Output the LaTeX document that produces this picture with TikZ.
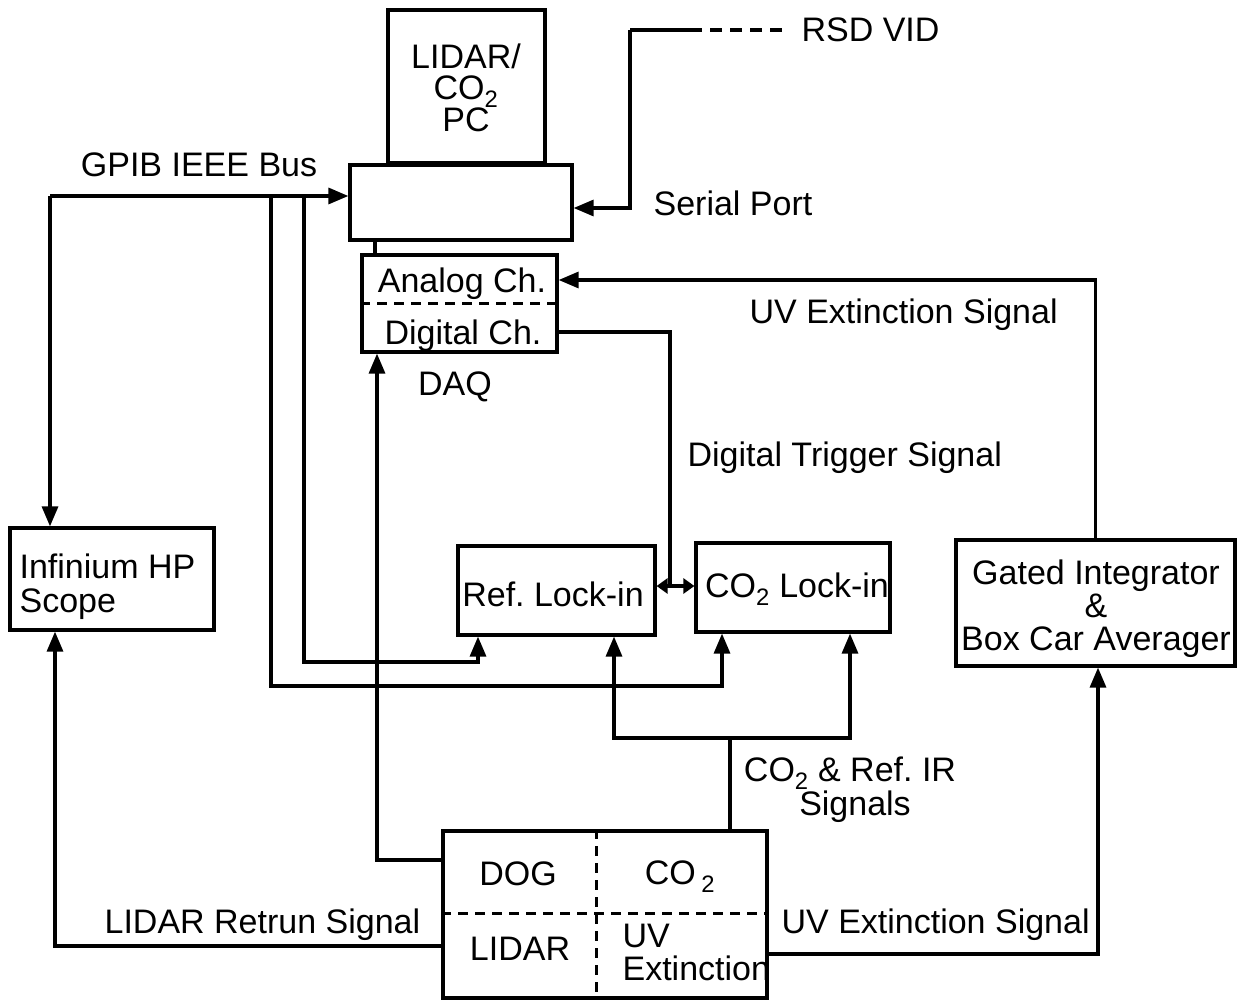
\documentclass[tikz,border=0pt]{standalone}
\usepackage{fontspec}
\setmainfont{Liberation Sans}
\usetikzlibrary{arrows.meta}
\begin{document}
\begin{tikzpicture}[x=1pt,y=-1pt,line width=3.2pt,
  every node/.style={inner sep=0pt, font=\fontsize{34}{34}\selectfont},
  box/.style={draw, line width=3.2pt},
  arr/.style={-{Triangle[length=20pt,width=16pt]}},
  darr/.style={{Triangle[length=11pt,width=15pt]}-{Triangle[length=11pt,width=15pt]}},
  sep/.style={dash pattern=on 10pt off 7pt, line width=3pt},
  lbl/.style={anchor=base west},
  ctr/.style={anchor=base},
]
\useasboundingbox (0,0) rectangle (1238,1000);

% boxes
\node[box, minimum width=157pt, minimum height=153pt] (pc) at (466.5,86.5) {};
\node[ctr, align=center, font=\fontsize{34}{31}\selectfont] (pctxt) at (466,132) {LIDAR/\\CO\textsubscript{2}\\PC};
\node[box, minimum width=222pt, minimum height=75pt] (port) at (461,202.5) {};
\node[box, minimum width=195pt, minimum height=97pt] (daq) at (459.5,303.5) {};
\node[ctr] (analog) at (462,292) {Analog Ch.};
\node[ctr] (digital) at (463,344) {Digital Ch.};
\draw[sep] (daq.west) -- (daq.east);
\node[ctr] (daqlbl) at (455,395) {DAQ};

\node[box, minimum width=204pt, minimum height=102pt] (inf) at (112,579) {};
\node[lbl, align=left] (inftxt) at (18,612) {Infinium HP\\Scope};

\node[box, minimum width=197pt, minimum height=89pt] (ref) at (556.5,590.5) {};
\node[ctr] (reftxt) at (553,606) {Ref.\ Lock-in};
\node[box, minimum width=194pt, minimum height=89pt] (co2) at (793,587.5) {};
\node[ctr] (co2txt) at (797,597) {CO\textsubscript{2} Lock-in};

\node[box, minimum width=279pt, minimum height=126pt] (gated) at (1095.5,603) {};
\node[ctr, align=center, font=\fontsize{34}{33}\selectfont] (gatedtxt) at (1096,650) {Gated Integrator\\\&\\Box Car Averager};

\node[box, minimum width=324pt, minimum height=167pt] (src) at (605,914.5) {};
\coordinate (vx) at (596,0);
\coordinate (hy) at (0,913);
\draw[sep] (src.north -| vx) -- (src.south -| vx);
\draw[sep] (src.west |- hy) -- (src.east |- hy);
\node[ctr] (dog) at (518,885) {DOG};
\node[ctr] (co2src) at (680,884) {CO\,\textsubscript{2}};
\node[ctr] (lidar) at (520,960) {LIDAR};
\node[lbl, align=left, font=\fontsize{34}{33}\selectfont] (uvsrc) at (621,980) {UV\\Extinction};

% labels
\node[ctr] (gpiblbl) at (199,177) {GPIB IEEE Bus};
\node[lbl] (serlbl) at (652,216) {Serial Port};
\node[lbl] (rsdlbl) at (800,42) {RSD VID};
\node[lbl] (uvtoplbl) at (748,323) {UV Extinction Signal};
\node[lbl] (triglbl) at (686,466) {Digital Trigger Signal};
\node[ctr, align=center] (irlbl) at (850,815) {CO\textsubscript{2} \& Ref.\ IR\\\hspace*{10pt}Signals};
\node[lbl] (lidarlbl) at (103,933) {LIDAR Retrun Signal};
\node[lbl] (uvbotlbl) at (780,933) {UV Extinction Signal};

% GPIB bus
\coordinate (gpib) at (50,196);
\coordinate (b1) at (271,196);
\coordinate (b2) at (304,196);
\coordinate (c1) at (722,686);
\coordinate (c2) at (478,662);
\draw[arr] (gpib) -- (gpib -| port.west);
\draw[arr] (gpib) -- (gpib |- inf.north);
\draw[arr] (b1) |- (c1) -- (c1 |- co2.south);
\draw[arr] (b2) |- (c2) -- (c2 |- ref.south);

% serial port / RSD VID
\coordinate (rsd) at (630,30);
\coordinate (rsdm) at (690,30);
\coordinate (rsde) at (785,30);
\coordinate (sp) at (0,208);
\draw[arr] (rsd) |- (port.east |- sp);
\draw (rsd) -- (rsdm);
\draw[dash pattern=on 12pt off 8pt] (rsdm) -- (rsde);

% port to DAQ
\coordinate (pd) at (375,0);
\draw (port.south -| pd) -- (daq.north -| pd);

% UV extinction to analog
\coordinate (an) at (0,280);
\draw[arr] (gated.north) |- (daq.east |- an);

% digital trigger
\coordinate (dg) at (0,332);
\coordinate (trig) at (670,586);
\draw (daq.east |- dg) -| (trig);
\draw[darr] (ref.east |- trig) -- (co2.west |- trig);

% IR signals
\coordinate (ir) at (730,738);
\coordinate (irl) at (614,738);
\coordinate (irr) at (850,738);
\draw (src.north -| ir) -- (ir);
\draw[arr] (ir) -| (ref.south -| irl);
\draw[arr] (ir) -| (co2.south -| irr);

% DOG to DAQ
\coordinate (dogy) at (377,860);
\draw[arr] (src.west |- dogy) -| (daq.south -| dogy);

% LIDAR return
\coordinate (lry) at (55,946);
\draw[arr] (src.west |- lry) -| (inf.south -| lry);

% UV extinction bottom
\coordinate (uvy) at (1098,954);
\draw[arr] (src.east |- uvy) -| (gated.south -| uvy);
\end{tikzpicture}
\end{document}
